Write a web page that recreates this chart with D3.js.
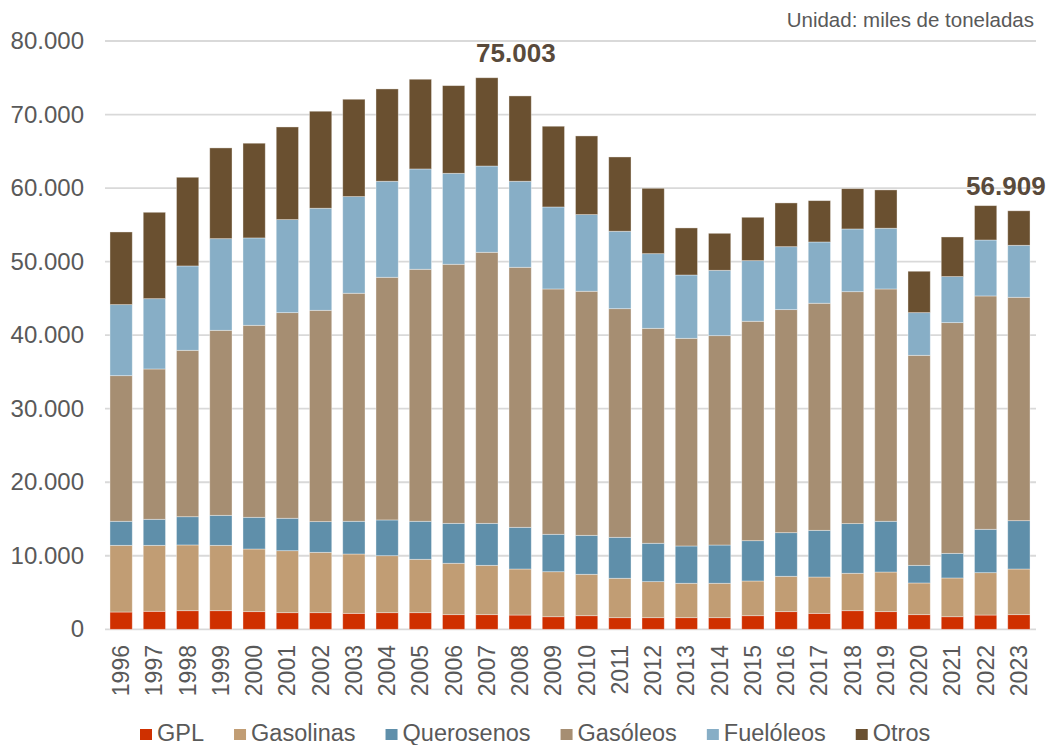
<!DOCTYPE html>
<html>
  <head>
    <meta charset="utf-8" />
    <title>consumo productos petroliferos</title>
    <script src="https://cdn.jsdelivr.net/npm/d3@7"></script>
    <style type="text/css">
      body { margin: 0; background: #fff; }
      text { font-family: "Liberation Sans", Arial, sans-serif; }
    </style>
  </head>

  <body>
    <svg id="chart" width="1052" height="745"></svg>
    <script type="text/javascript">
      // datos (miles de toneladas)
      var years = ['1996','1997','1998','1999','2000','2001','2002','2003','2004','2005',
        '2006','2007','2008','2009','2010','2011','2012','2013','2014','2015',
        '2016','2017','2018','2019','2020','2021','2022','2023'];
      var series = ['GPL', 'Gasolinas', 'Querosenos', 'Gasóleos', 'Fuelóleos', 'Otros'];
      var colors = ['#cf3000', '#c19d74', '#5f8faa', '#a68e72', '#87aec6', '#6a5030'];

      var gpl = [2350,2450,2530,2530,2400,2260,2260,2170,2260,2260,1990,1990,1940,1710,
        1850,1580,1580,1580,1580,1850,2400,2170,2530,2400,1990,1710,1940,1990];
      var gasolinas = [9070,8970,8940,8890,8520,8430,8210,8070,7750,7260,6990,6710,6260,6120,
        5630,5360,4900,4680,4680,4720,4810,4940,5090,5390,4310,5270,5760,6210];
      var querosenos = [3270,3540,3840,4080,4310,4410,4170,4450,4860,5170,5430,5710,5670,5090,
        5300,5570,5220,5070,5200,5480,5930,6350,6750,6900,2400,3350,5900,6570];
      var gasoleos = [19800,20440,22630,25160,26110,27960,28740,31010,33000,34270,35230,36860,35360,33360,
        33190,31090,29230,28240,28470,29840,30330,30880,31540,31590,28560,31370,31730,30380];
      var fueloleos = [9660,9560,11470,12460,11880,12650,13880,13140,13060,13640,12370,11730,11700,11150,
        10420,10530,10150,8610,8890,8240,8560,8330,8530,8260,5800,6260,7610,7070];
      var otros = [9880,11750,12060,12340,12880,12600,13190,13240,12550,12200,11920,12003,11600,10980,
        10700,10100,8890,6400,5030,5900,5950,5620,5480,5210,5630,5390,4670,4689];

      var yTicks = [0, 10000, 20000, 30000, 40000, 50000, 60000, 70000, 80000];
      var notes = [{ year: '2007', text: '75.003', dx: 29 }, { year: '2023', text: '56.909', dx: -13 }];

      var table = years.map(function (y, i) {
        return { year: y, GPL: gpl[i], Gasolinas: gasolinas[i], Querosenos: querosenos[i],
          'Gasóleos': gasoleos[i], 'Fuelóleos': fueloleos[i], Otros: otros[i] };
      });
      var stack = d3.stack().keys(series)(table);

      var svg = d3.select('#chart');
      var x = d3.scaleBand().domain(years).range([104, 1036]).paddingInner(0.33).paddingOuter(0.18);
      var y = d3.scaleLinear().domain([0, 80000]).range([629.3, 41]);
      var fmt = function (v) { return d3.format(',')(v).replace(/,/g, '.'); };

      // rejilla
      svg.append('g').selectAll('line').data(yTicks).enter().append('line')
        .attr('x1', 105).attr('x2', 1036)
        .attr('y1', function (d) { return y(d); }).attr('y2', function (d) { return y(d); })
        .attr('stroke', '#d9d9d9').attr('stroke-width', 1.8);

      // eje y
      var yAxis = svg.append('g').attr('transform', 'translate(84,0)')
        .call(d3.axisLeft(y).tickValues(yTicks).tickSize(0).tickPadding(0).tickFormat(fmt));
      yAxis.select('.domain').remove();
      yAxis.selectAll('text').attr('font-size', 24).attr('fill', '#595959')
        .attr('font-family', '"Liberation Sans", Arial, sans-serif');

      // barras
      svg.append('g').selectAll('g').data(stack).enter().append('g')
        .attr('fill', function (d, i) { return colors[i]; })
        .selectAll('rect').data(function (d) { return d; }).enter().append('rect')
        .attr('x', function (d) { return x(d.data.year); })
        .attr('width', x.bandwidth())
        .attr('y', function (d) { return y(d[1]); })
        .attr('height', function (d) { return y(d[0]) - y(d[1]); })
        .attr('stroke', '#ffffff').attr('stroke-opacity', 0.45).attr('stroke-width', 0.8);

      // eje x
      var xAxis = svg.append('g')
        .call(d3.axisBottom(x).tickSize(0).tickPadding(0));
      xAxis.select('.domain').remove();
      xAxis.selectAll('text')
        .attr('font-size', 23).attr('fill', '#595959')
        .attr('font-family', '"Liberation Sans", Arial, sans-serif')
        .attr('transform', 'rotate(-90)')
        .attr('text-anchor', 'end').attr('dy', '0.35em').attr('x', 0).attr('y', 0);
      xAxis.selectAll('.tick').attr('transform', function (d) {
        return 'translate(' + (x(d) + x.bandwidth() / 2) + ',645)';
      });

      // etiquetas de total
      svg.append('g').selectAll('text').data(notes).enter().append('text')
        .attr('x', function (d) { return x(d.year) + x.bandwidth() / 2 + d.dx; })
        .attr('y', function (d) {
          var i = years.indexOf(d.year);
          return y(stack[5][i][1]) - 15.5;
        })
        .attr('text-anchor', 'middle')
        .attr('font-size', 26).attr('font-weight', 'bold').attr('fill', '#594a3b')
        .text(function (d) { return d.text; });

      // unidad
      svg.append('text').attr('x', 1034).attr('y', 27).attr('text-anchor', 'end')
        .attr('font-size', 20.5).attr('fill', '#595959').text('Unidad: miles de toneladas');

      // leyenda
      var legend = svg.append('g');
      var lx = 140;
      series.forEach(function (s, i) {
        legend.append('rect').attr('x', lx).attr('y', 729).attr('width', 12).attr('height', 11)
          .attr('fill', colors[i]);
        var t = legend.append('text').attr('x', lx + 17).attr('y', 741)
          .attr('font-size', 23.5).attr('fill', '#595959').text(s);
        lx += 17 + t.node().getComputedTextLength() + 30;
      });
    </script>
  </body>
</html>
